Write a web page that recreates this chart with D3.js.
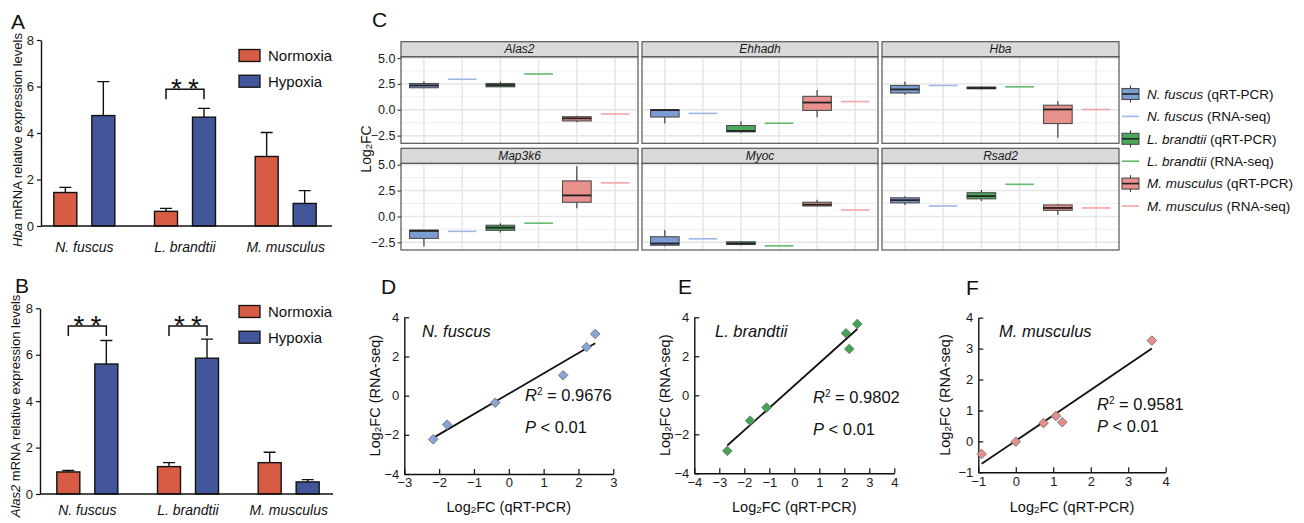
<!DOCTYPE html>
<html>
<head>
<meta charset="utf-8">
<script src="https://cdn.jsdelivr.net/npm/d3@7"></script>
<style>
  body { margin: 0; background: #fff; }
  svg text { font-family: "Liberation Sans", Arial, Helvetica, sans-serif; }
</style>
</head>
<body>
<svg id="fig" width="1304" height="523"></svg>
<script>
// ---------------- data ----------------
var species = ["N. fuscus", "L. brandtii", "M. musculus"];
var conditions = ["Normoxia", "Hypoxia"];

// A: Hba, B: Alas2 relative mRNA levels (mean and upper error)
var hbaNormoxia = [1.44, 0.63, 2.99];
var hbaNormoxiaErr = [0.22, 0.13, 1.03];
var hbaHypoxia = [4.75, 4.68, 0.97];
var hbaHypoxiaErr = [1.46, 0.38, 0.55];
var alasNormoxia = [0.95, 1.18, 1.35];
var alasNormoxiaErr = [0.06, 0.17, 0.45];
var alasHypoxia = [5.60, 5.85, 0.52];
var alasHypoxiaErr = [1.01, 0.82, 0.10];
var barTicks = [0, 2, 4, 6, 8];
var hbaSig = [1];        // species index with ** bracket
var alasSig = [0, 1];
var hbaSigLevel = 5.88, alasSigLevel = 7.24;

// C: log2FC by gene; qRT-PCR boxes as [min, q1, median, q3, max]
var genes = ["Alas2", "Ehhadh", "Hba", "Map3k6", "Myoc", "Rsad2"];
var nfQpcr = [[2.06, 2.13, 2.35, 2.54, 2.76], [-1.33, -0.70, -0.03, 0.0, 0.0], [1.46, 1.62, 1.97, 2.35, 2.73],
              [-2.88, -2.12, -1.40, -1.31, -1.31], [-2.88, -2.78, -2.61, -1.96, -1.31], [1.11, 1.31, 1.57, 1.80, 1.96]];
var lbQpcr = [[2.19, 2.22, 2.38, 2.54, 2.73], [-2.22, -2.13, -2.05, -1.52, -1.10], [1.97, 2.03, 2.10, 2.20, 2.25],
              [-1.54, -1.34, -1.08, -0.85, -0.65], [-2.78, -2.71, -2.61, -2.45, -2.39], [1.50, 1.70, 1.96, 2.29, 2.55]];
var mmQpcr = [[-1.21, -1.08, -0.83, -0.67, -0.57], [-0.73, -0.06, 0.70, 1.30, 1.90], [-2.70, -1.33, 0.03, 0.44, 0.83],
              [0.78, 1.37, 2.03, 3.43, 4.84], [0.98, 1.01, 1.14, 1.37, 1.60], [0.16, 0.59, 0.82, 1.11, 1.21]];
var nfRnaSeq = [2.95, -0.35, 2.35, -1.44, -2.16, 1.01];
var lbRnaSeq = [3.46, -1.30, 2.22, -0.65, -2.84, 3.10];
var mmRnaSeq = [-0.41, 0.79, 0.03, 3.24, 0.62, 0.82];
var fcTicks = [-2.5, 0, 2.5, 5];
var fcMinor = [-1.25, 1.25, 3.75];
var fcDomain = [-3.24, 5.13];

// D-F: log2FC qRT-PCR (x) vs RNA-seq (y)
var nfPcr = [-2.17, -1.77, -0.39, 1.56, 2.23, 2.48];
var nfSeq = [-2.23, -1.48, -0.36, 1.04, 2.48, 3.15];
var lbPcr = [-2.68, -1.77, -1.11, 2.07, 2.20, 2.52];
var lbSeq = [-2.85, -1.30, -0.63, 3.18, 2.38, 3.66];
var mmPcr = [-0.91, 0.00, 0.74, 1.07, 1.24, 3.63];
var mmSeq = [-0.41, -0.01, 0.59, 0.82, 0.62, 3.26];
var rSquared = ["0.9676", "0.9802", "0.9581"];

// ---------------- styles ----------------
var FONT = '"Liberation Sans", Arial, Helvetica, sans-serif';
var barColor = {"Normoxia": "#d75b45", "Hypoxia": "#44569b"};
var boxFill = {"N. fuscus": "#7b9dd3", "L. brandtii": "#4aa95a", "M. musculus": "#e8918c"};
var seqColor = {"N. fuscus": "#9fb7e5", "L. brandtii": "#62ba6b", "M. musculus": "#f5a3a3"};
var dotColor = {"N. fuscus": "#88a5d8", "L. brandtii": "#40a651", "M. musculus": "#e58e8a"};

var svg = d3.select("#fig");
svg.append("rect").attr("width", 1304).attr("height", 523).attr("fill", "#fff");

function styleAxis(ax, size, stroke) {
    ax.attr("font-family", FONT);
    ax.select(".domain").attr("stroke", stroke).attr("stroke-width", 1.4);
    ax.selectAll(".tick line").attr("stroke", stroke).attr("stroke-width", 1.2);
    ax.selectAll(".tick text").attr("font-size", size).attr("fill", "#1a1a1a");
}

function log2fc(t, suffix, fs) {
    t.append("tspan").text("Log");
    t.append("tspan").attr("font-size", fs * 0.68).attr("dy", fs * 0.08).text("2");
    t.append("tspan").attr("dy", -fs * 0.08).text("FC" + suffix);
}

// ---------------- A / B bar charts ----------------
function barPanel(o) {
    var g = svg.append("g");
    var y = d3.scaleLinear().domain([0, 8]).range([o.base, o.top]);
    var x = d3.scaleBand().domain(species).range(o.band);
    var xs = d3.scaleBand().domain(conditions).range([-30.5, 30.5]).paddingInner(0.395);
    var bars = [];
    species.forEach(function (s, i) {
        bars.push({s: s, c: "Normoxia", v: o.norm[i], e: o.normErr[i]});
        bars.push({s: s, c: "Hypoxia", v: o.hyp[i], e: o.hypErr[i]});
    });
    var left = function (d) { return x(d.s) + x.bandwidth() / 2 + xs(d.c); };
    var mid = function (d) { return left(d) + xs.bandwidth() / 2; };

    g.selectAll(".err").data(bars).enter().append("path")
        .attr("d", function (d) {
            var t = y(d.v + d.e);
            return "M" + mid(d) + "," + y(d.v) + "V" + t + "M" + (mid(d) - 6) + "," + t + "H" + (mid(d) + 6);
        })
        .attr("fill", "none").attr("stroke", "#111").attr("stroke-width", 1.4);

    g.selectAll(".bar").data(bars).enter().append("rect")
        .attr("x", left).attr("width", xs.bandwidth())
        .attr("y", function (d) { return y(d.v); })
        .attr("height", function (d) { return y(0) - y(d.v); })
        .attr("fill", function (d) { return barColor[d.c]; })
        .attr("stroke", "#111").attr("stroke-width", 1.4);

    var ya = g.append("g").attr("transform", "translate(" + o.axisX + ",0)")
        .call(d3.axisLeft(y).tickValues(barTicks).tickSize(4).tickSizeOuter(0).tickPadding(3));
    styleAxis(ya, 13, "#111");
    g.append("line").attr("x1", o.axisX).attr("x2", o.axisRight)
        .attr("y1", y(0)).attr("y2", y(0)).attr("stroke", "#111").attr("stroke-width", 1.5);

    g.selectAll(".xl").data(species).enter().append("text")
        .attr("x", function (s) { return x(s) + x.bandwidth() / 2; })
        .attr("y", o.labelY).attr("text-anchor", "middle")
        .attr("font-size", 14).attr("font-style", "italic").attr("fill", "#111")
        .text(function (s) { return s; });

    var yl = g.append("text")
        .attr("transform", "translate(" + o.titleX + "," + o.titleY + ") rotate(-90)")
        .attr("text-anchor", "middle").attr("font-size", 13).attr("fill", "#111");
    yl.append("tspan").attr("font-style", "italic").text(o.gene);
    yl.append("tspan").text(" mRNA relative expression levels");

    // significance brackets
    o.sig.forEach(function (i) {
        var s = species[i];
        var xa = mid({s: s, c: "Normoxia"}), xb = mid({s: s, c: "Hypoxia"});
        var by = y(o.sigLevel);
        g.append("path").attr("d", "M" + xa + "," + (by + 10) + "V" + by + "H" + xb + "V" + (by + 10))
            .attr("fill", "none").attr("stroke", "#111").attr("stroke-width", 1.5);
        [-8.5, 8.5].forEach(function (dx) {
            g.append("text").attr("x", (xa + xb) / 2 + dx).attr("y", by + 9)
                .attr("text-anchor", "middle").attr("font-size", 28).attr("fill", "#111").text("*");
        });
    });

    // legend
    conditions.forEach(function (c, i) {
        var ly = o.legendY + i * 25.7;
        g.append("rect").attr("x", 239).attr("y", ly).attr("width", 21).attr("height", 12)
            .attr("fill", barColor[c]).attr("stroke", "#111").attr("stroke-width", 1.3);
        g.append("text").attr("x", 268).attr("y", ly + 6).attr("dy", "0.36em")
            .attr("font-size", 15).attr("fill", "#111").text(c);
    });
}

barPanel({base: 226, top: 40, band: [34, 336], axisX: 41, axisRight: 332, labelY: 252,
    titleX: 22, titleY: 140, gene: "Hba", norm: hbaNormoxia, normErr: hbaNormoxiaErr,
    hyp: hbaHypoxia, hypErr: hbaHypoxiaErr, sig: hbaSig, sigLevel: hbaSigLevel, legendY: 49.5});
barPanel({base: 494, top: 308.3, band: [37, 339], axisX: 40, axisRight: 333, labelY: 515,
    titleX: 20, titleY: 406, gene: "Alas2", norm: alasNormoxia, normErr: alasNormoxiaErr,
    hyp: alasHypoxia, hypErr: alasHypoxiaErr, sig: alasSig, sigLevel: alasSigLevel, legendY: 305.5});

// ---------------- C faceted boxplots ----------------
var qpcrBySpecies = {"N. fuscus": nfQpcr, "L. brandtii": lbQpcr, "M. musculus": mmQpcr};
var seqBySpecies = {"N. fuscus": nfRnaSeq, "L. brandtii": lbRnaSeq, "M. musculus": mmRnaSeq};
var seriesOrder = [];
species.forEach(function (s) { seriesOrder.push({s: s, kind: "qpcr"}, {s: s, kind: "seq"}); });
var facetX = [[401, 638], [642, 878], [882, 1119]];
var facetY = [[41.7, 56.7, 143.3], [148.3, 163.3, 250]];
var gc = svg.append("g");

genes.forEach(function (gene, gi) {
    var fx = facetX[gi % 3], fy = facetY[Math.floor(gi / 3)];
    var x = d3.scalePoint().domain(d3.range(seriesOrder.length)).range(fx).padding(0.6);
    var y = d3.scaleLinear().domain(fcDomain).range([fy[2], fy[1]]);
    var bw = x.step() * 0.75;
    var g = gc.append("g");

    g.append("rect").attr("x", fx[0]).attr("y", fy[1]).attr("width", fx[1] - fx[0]).attr("height", fy[2] - fy[1])
        .attr("fill", "#fff");
    g.selectAll(".mn").data(fcMinor).enter().append("line")
        .attr("x1", fx[0]).attr("x2", fx[1]).attr("y1", y).attr("y2", y)
        .attr("stroke", "#ebebeb").attr("stroke-width", 0.8);
    g.selectAll(".mj").data(fcTicks).enter().append("line")
        .attr("x1", fx[0]).attr("x2", fx[1]).attr("y1", y).attr("y2", y)
        .attr("stroke", "#e6e6e6").attr("stroke-width", 1.5);
    g.selectAll(".vj").data(d3.range(seriesOrder.length)).enter().append("line")
        .attr("x1", x).attr("x2", x).attr("y1", fy[1]).attr("y2", fy[2])
        .attr("stroke", "#e6e6e6").attr("stroke-width", 1.5);

    seriesOrder.forEach(function (se, k) {
        var cx = x(k);
        if (se.kind === "seq") {
            var v = seqBySpecies[se.s][gi];
            g.append("line").attr("x1", cx - bw / 2).attr("x2", cx + bw / 2).attr("y1", y(v)).attr("y2", y(v))
                .attr("stroke", seqColor[se.s]).attr("stroke-width", 1.6);
        } else {
            var b = qpcrBySpecies[se.s][gi];
            g.append("line").attr("x1", cx).attr("x2", cx).attr("y1", y(b[0])).attr("y2", y(b[4]))
                .attr("stroke", "#333").attr("stroke-width", 1.1);
            g.append("rect").attr("x", cx - bw / 2).attr("width", bw)
                .attr("y", y(b[3])).attr("height", Math.max(y(b[1]) - y(b[3]), 0.5))
                .attr("fill", boxFill[se.s]).attr("stroke", "#4d4d4d").attr("stroke-width", 1.1);
            g.append("line").attr("x1", cx - bw / 2).attr("x2", cx + bw / 2).attr("y1", y(b[2])).attr("y2", y(b[2]))
                .attr("stroke", "#222").attr("stroke-width", 1.8);
        }
    });

    g.append("rect").attr("x", fx[0]).attr("y", fy[1]).attr("width", fx[1] - fx[0]).attr("height", fy[2] - fy[1])
        .attr("fill", "none").attr("stroke", "#555").attr("stroke-width", 1.2);
    g.append("rect").attr("x", fx[0]).attr("y", fy[0]).attr("width", fx[1] - fx[0]).attr("height", fy[1] - fy[0])
        .attr("fill", "#d9d9d9").attr("stroke", "#555").attr("stroke-width", 1.2);
    g.append("text").attr("x", (fx[0] + fx[1]) / 2).attr("y", fy[1] - 3.6)
        .attr("text-anchor", "middle").attr("font-size", 12).attr("font-style", "italic").attr("fill", "#1a1a1a")
        .text(gene);

    if (gi % 3 === 0) {
        var ya = g.append("g").attr("transform", "translate(" + fx[0] + ",0)")
            .call(d3.axisLeft(y).tickValues(fcTicks).tickFormat(d3.format(".1f")).tickSize(3.5).tickPadding(2));
        ya.select(".domain").remove();
        styleAxis(ya, 12.5, "#444");
    }
});

var ct = gc.append("text").attr("transform", "translate(371,149) rotate(-90)")
    .attr("text-anchor", "middle").attr("font-size", 14).attr("fill", "#111");
log2fc(ct, "", 14);

// legend for C
var legendItems = [];
species.forEach(function (s) {
    legendItems.push({s: s, kind: "qpcr", tag: "(qRT-PCR)"});
    legendItems.push({s: s, kind: "seq", tag: "(RNA-seq)"});
});
legendItems.forEach(function (it, i) {
    var ly = 94 + i * 22.4;
    var lg = gc.append("g");
    if (it.kind === "qpcr") {
        lg.append("line").attr("x1", 1130.5).attr("x2", 1130.5).attr("y1", ly - 8.5).attr("y2", ly + 8.5)
            .attr("stroke", "#333").attr("stroke-width", 1.1);
        lg.append("rect").attr("x", 1122).attr("y", ly - 5.5).attr("width", 17).attr("height", 11)
            .attr("fill", boxFill[it.s]).attr("stroke", "#4d4d4d").attr("stroke-width", 1.1);
        lg.append("line").attr("x1", 1122).attr("x2", 1139).attr("y1", ly).attr("y2", ly)
            .attr("stroke", "#222").attr("stroke-width", 1.6);
    } else {
        lg.append("line").attr("x1", 1122).attr("x2", 1139).attr("y1", ly).attr("y2", ly)
            .attr("stroke", seqColor[it.s]).attr("stroke-width", 1.6);
    }
    var t = lg.append("text").attr("x", 1147).attr("y", ly).attr("dy", "0.36em")
        .attr("font-size", 13.5).attr("fill", "#111");
    t.append("tspan").attr("font-style", "italic").text(it.s);
    t.append("tspan").text(" " + it.tag);
});

// ---------------- D-F scatter plots ----------------
function scatterPanel(o) {
    var g = svg.append("g");
    var x = d3.scaleLinear().domain(o.xDomain).range(o.xRange);
    var y = d3.scaleLinear().domain(o.yDomain).range(o.yRange);
    var pts = o.xs.map(function (v, i) { return {x: v, y: o.ys[i]}; });

    var xa = g.append("g").attr("transform", "translate(0," + o.yRange[0] + ")")
        .call(d3.axisBottom(x).tickValues(d3.range(o.xDomain[0], o.xDomain[1] + 1)).tickFormat(d3.format("d"))
            .tickSize(-5).tickSizeOuter(0).tickPadding(4));
    styleAxis(xa, 13, "#111");
    var ya = g.append("g").attr("transform", "translate(" + o.xRange[0] + ",0)")
        .call(d3.axisLeft(y).tickValues(d3.range(o.yDomain[0], o.yDomain[1] + 1, o.yStep)).tickFormat(d3.format("d"))
            .tickSize(-5).tickSizeOuter(0).tickPadding(5));
    styleAxis(ya, 13, "#111");

    // least squares fit
    var mx = d3.mean(o.xs), my = d3.mean(o.ys);
    var sxy = d3.sum(pts, function (p) { return (p.x - mx) * (p.y - my); });
    var sxx = d3.sum(pts, function (p) { return (p.x - mx) * (p.x - mx); });
    var slope = sxy / sxx, icpt = my - slope * mx;
    var ext = d3.extent(o.xs);
    g.append("line").attr("x1", x(ext[0])).attr("x2", x(ext[1]))
        .attr("y1", y(icpt + slope * ext[0])).attr("y2", y(icpt + slope * ext[1]))
        .attr("stroke", "#111").attr("stroke-width", 1.8);

    g.selectAll(".pt").data(pts).enter().append("path")
        .attr("d", d3.symbol(d3.symbolSquare, 46))
        .attr("transform", function (p) { return "translate(" + x(p.x) + "," + y(p.y) + ") rotate(45)"; })
        .attr("fill", dotColor[o.sp]).attr("stroke", "#6f6f6f").attr("stroke-width", 0.8);

    g.append("text").attr("x", o.spX).attr("y", 336.5).attr("font-size", 16.5).attr("font-style", "italic")
        .attr("fill", "#111").text(o.sp);
    var r = g.append("text").attr("x", o.statX).attr("y", o.rY).attr("font-size", 16.5).attr("fill", "#111");
    r.append("tspan").attr("font-style", "italic").text("R");
    r.append("tspan").attr("font-size", 10).attr("dy", -6).text("2");
    r.append("tspan").attr("dy", 6).text(" = " + o.r2);
    var p = g.append("text").attr("x", o.statX).attr("y", o.pY).attr("font-size", 16.5).attr("fill", "#111");
    p.append("tspan").attr("font-style", "italic").text("P");
    p.append("tspan").text(" < 0.01");

    var xt = g.append("text").attr("x", (o.xRange[0] + o.xRange[1]) / 2).attr("y", 512)
        .attr("text-anchor", "middle").attr("font-size", 14.5).attr("fill", "#111");
    log2fc(xt, " (qRT-PCR)", 14.5);
    var yt = g.append("text").attr("transform", "translate(" + o.yTitleX + "," + (o.yRange[0] + o.yRange[1]) / 2 + ") rotate(-90)")
        .attr("text-anchor", "middle").attr("font-size", 14.5).attr("fill", "#111");
    log2fc(yt, " (RNA-seq)", 14.5);
}

scatterPanel({sp: "N. fuscus", xs: nfPcr, ys: nfSeq, r2: rSquared[0], xDomain: [-3, 3], yDomain: [-4, 4], yStep: 2,
    xRange: [404.3, 613.3], yRange: [474, 317.3], spX: 422, statX: 525, rY: 400.5, pY: 433, yTitleX: 380});
scatterPanel({sp: "L. brandtii", xs: lbPcr, ys: lbSeq, r2: rSquared[1], xDomain: [-4, 4], yDomain: [-4, 4], yStep: 2,
    xRange: [694.3, 894.3], yRange: [473.3, 317.3], spX: 715, statX: 813, rY: 403, pY: 434.5, yTitleX: 670});
scatterPanel({sp: "M. musculus", xs: mmPcr, ys: mmSeq, r2: rSquared[2], xDomain: [-1, 4], yDomain: [-1, 4], yStep: 1,
    xRange: [978.3, 1165.7], yRange: [472.3, 317.7], spX: 999, statX: 1097, rY: 410, pY: 432, yTitleX: 950});

// ---------------- panel letters ----------------
var letters = [["A", 11, 28.5], ["B", 15, 293], ["C", 372, 27], ["D", 381, 293.5], ["E", 678, 293.5], ["F", 966, 295]];
svg.selectAll(".letter").data(letters).enter().append("text")
    .attr("x", function (d) { return d[1]; }).attr("y", function (d) { return d[2]; })
    .attr("font-size", 21).attr("fill", "#111").text(function (d) { return d[0]; });
</script>
</body>
</html>
